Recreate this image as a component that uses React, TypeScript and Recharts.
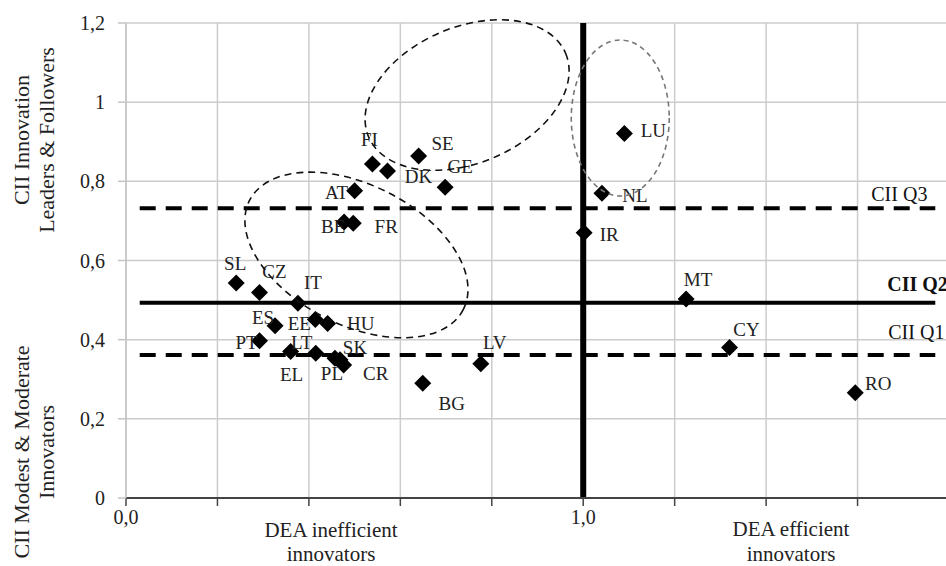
import { ScatterChart, Scatter, XAxis, YAxis, CartesianGrid, ReferenceLine, ReferenceDot } from "recharts"

// country codes with DEA efficiency (x) and CII score (y)
const codes = ["SL", "CZ", "IT", "ES", "EE", "HU", "PT", "EL", "LT", "PL", "SK", "CR", "BG", "LV", "FI", "DK", "SE", "GE", "AT", "BE", "FR", "LU", "NL", "IR", "MT", "CY", "RO"]
const deaScore = [0.241, 0.292, 0.376, 0.326, 0.414, 0.441, 0.292, 0.36, 0.415, 0.457, 0.468, 0.476, 0.649, 0.776, 0.539, 0.572, 0.64, 0.698, 0.5, 0.477, 0.497, 1.09, 1.041, 1.002, 1.225, 1.32, 1.595]
const ciiScore = [0.543, 0.519, 0.492, 0.435, 0.451, 0.441, 0.397, 0.37, 0.366, 0.353, 0.349, 0.336, 0.29, 0.339, 0.844, 0.826, 0.864, 0.785, 0.776, 0.697, 0.694, 0.921, 0.77, 0.67, 0.503, 0.38, 0.266]

// CII quartiles
const ciiQ1 = 0.361
const ciiQ2 = 0.493
const ciiQ3 = 0.732
const deaFrontier = 1.0
const quartileSpan = [0.03, 1.77]

const xTicks = [0, 0.2, 0.4, 0.6, 0.8, 1.0, 1.2, 1.4, 1.6, 1.8]
const xLabelled = [0, 1]
const yTicks = [0, 0.2, 0.4, 0.6, 0.8, 1.0, 1.2]

// cluster outlines: centre in data units
const clusters = [
  { x: 0.746, y: 1.018, rx: 107, ry: 68, rot: -23, color: "#111" },
  { x: 1.081, y: 0.96, rx: 49, ry: 78, rot: 0, color: "#777" },
  { x: 0.504, y: 0.614, rx: 120, ry: 70, rot: 27, color: "#111" },
]

// where each country's label sits relative to its marker (px)
const labelNudge: Record<string, [number, number]> = {
  SL: [-1, -20], CZ: [15, -21], IT: [15, -21], ES: [-12, -8], EE: [-16, 4], HU: [33, 0],
  PT: [-13, 2], EL: [1, 23], LT: [-14, -11], PL: [-3, 15], SK: [15, -12], CR: [32, 8],
  BG: [29, 20], LV: [14, -21], FI: [-3, -24], DK: [31, 5], SE: [24, -13], GE: [15, -21],
  AT: [-18, 2], BE: [-11, 4], FR: [33, 3], LU: [29, -3], NL: [33, 2], IR: [25, 2],
  MT: [12, -19], CY: [17, -18], RO: [23, -9],
}

const points = codes.map((code, i) => ({ code, x: deaScore[i], y: ciiScore[i] }))

const serif = "Liberation Serif, Times New Roman, serif"

const Diamond = (props: any) => {
  const { cx, cy, payload } = props
  const [dx, dy] = labelNudge[payload.code] || [15, -15]
  const r = 8.5
  return (
    <g>
      <polygon points={`${cx},${cy - r} ${cx + r},${cy} ${cx},${cy + r} ${cx - r},${cy}`} fill="#000" />
      <text x={cx + dx} y={cy + dy} textAnchor="middle" dominantBaseline="central" style={{ fontFamily: serif }} fontSize={19} fill="#222">
        {payload.code}
      </text>
    </g>
  )
}

const fmt = (v: number) => String(Math.round(v * 10) / 10).replace(".", ",")

const quartileLabel = (text: string, lift: number, bold: boolean, fromEnd: number) => (props: any) => {
  const vb = props.viewBox
  return (
    <text x={vb.x + vb.width - fromEnd} y={vb.y - lift} dominantBaseline="central" style={{ fontFamily: serif }} fontSize={20} fontWeight={bold ? "bold" : "normal"} fill="#111">
      {text}
    </text>
  )
}

export default function App() {
  return (
    <div style={{ position: "absolute", left: 0, top: 0, width: 946, height: 566, overflow: "hidden", background: "#fff" }}>
      <ScatterChart width={960} height={566} margin={{ top: 23, right: 11, bottom: 0, left: 0 }}>
        <CartesianGrid stroke="#cccccc" strokeWidth={1.5} />
        <XAxis
          type="number"
          dataKey="x"
          domain={[0, 1.8]}
          ticks={xTicks}
          interval={0}
          height={68}
          tickSize={8}
          tickMargin={4}
          stroke="#444"
          axisLine={{ stroke: "#444", strokeWidth: 2 }}
          tickLine={{ stroke: "#444", strokeWidth: 1.5 }}
          tick={{ style: { fontFamily: serif }, fontSize: 20, fill: "#222" }}
          tickFormatter={(v: number) => (xLabelled.some((t) => Math.abs(t - v) < 1e-6) ? v.toFixed(1).replace(".", ",") : "")}
        />
        <YAxis
          type="number"
          dataKey="y"
          domain={[0, 1.2]}
          ticks={yTicks}
          interval={0}
          width={126}
          tickSize={8}
          tickMargin={13}
          axisLine={{ stroke: "#c4c4c4", strokeWidth: 1.5 }}
          tickLine={{ stroke: "#c4c4c4", strokeWidth: 1.5 }}
          tick={{ style: { fontFamily: serif }, fontSize: 20, fill: "#222" }}
          tickFormatter={fmt}
        />
        <ReferenceLine
          segment={[{ x: quartileSpan[0], y: ciiQ3 }, { x: quartileSpan[1], y: ciiQ3 }]}
          stroke="#000"
          strokeWidth={4}
          strokeDasharray="16 10"
          label={quartileLabel("CII Q3", 14, false, 64)}
        />
        <ReferenceLine
          segment={[{ x: quartileSpan[0], y: ciiQ2 }, { x: quartileSpan[1], y: ciiQ2 }]}
          stroke="#000"
          strokeWidth={4}
          label={quartileLabel("CII Q2", 19, true, 48)}
        />
        <ReferenceLine
          segment={[{ x: quartileSpan[0], y: ciiQ1 }, { x: quartileSpan[1], y: ciiQ1 }]}
          stroke="#000"
          strokeWidth={4}
          strokeDasharray="16 10"
          label={quartileLabel("CII Q1", 23, false, 47)}
        />
        <ReferenceLine x={deaFrontier} stroke="#000" strokeWidth={6} />
        <Scatter data={points} shape={Diamond} isAnimationActive={false} />
        {clusters.map((c, i) => (
          <ReferenceDot
            key={i}
            x={c.x}
            y={c.y}
            r={1}
            ifOverflow="visible"
            shape={(p: any) => (
              <ellipse
                cx={p.cx}
                cy={p.cy}
                rx={c.rx}
                ry={c.ry}
                transform={`rotate(${c.rot} ${p.cx} ${p.cy})`}
                fill="none"
                stroke={c.color}
                strokeWidth={1.6}
                strokeDasharray={c.color === "#111" ? "7 5" : "5 4"}
              />
            )}
          />
        ))}
      </ScatterChart>
      <svg width={946} height={566} style={{ position: "absolute", left: 0, top: 0, pointerEvents: "none", fontFamily: serif }}>
        <g fontSize={22} fill="#222" textAnchor="middle" dominantBaseline="central">
          <text transform="translate(21,140) rotate(-90)">CII Innovation</text>
          <text transform="translate(46,140) rotate(-90)">Leaders &amp; Followers</text>
          <text transform="translate(21,452) rotate(-90)">CII Modest &amp; Moderate</text>
          <text transform="translate(46,452) rotate(-90)">Innovators</text>
        </g>
        <g fontSize={21} fill="#222" textAnchor="middle" dominantBaseline="central">
          <text x={331} y={530}>DEA inefficient</text>
          <text x={331} y={554}>innovators</text>
          <text x={791} y={529}>DEA efficient</text>
          <text x={791} y={554}>innovators</text>
        </g>
      </svg>
    </div>
  )
}
